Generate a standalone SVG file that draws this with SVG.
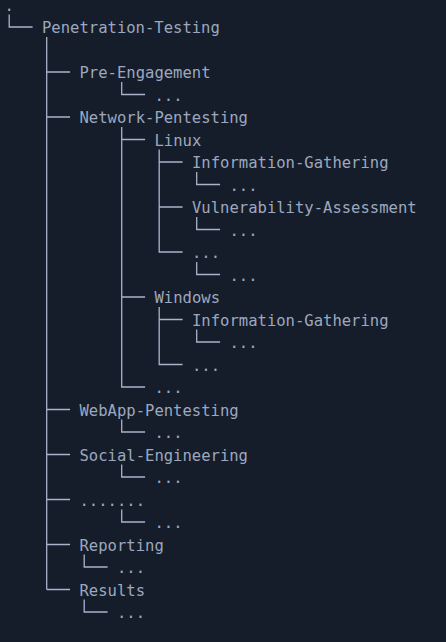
<svg xmlns="http://www.w3.org/2000/svg" width="446" height="642" viewBox="0 0 446 642">
<style>
text{font-family:"DejaVu Sans Mono","Liberation Mono",monospace;font-size:15.56px;fill:#9da8bf}
.c path{fill:none;stroke:#a9b3ca;stroke-width:1.3}
</style>
<rect width="446" height="642" fill="#151d2b"/>
<g class="c" id="connectors">
<path d="M9.2 14.5V27H32.6"/>
<path d="M46.7 37V589.5M46.7 72H70.1M46.7 117H70.1M46.7 409.5H70.1M46.7 454.5H70.1M46.7 499.5H70.1M46.7 544.5H70.1M46.7 589.5H70.1"/>
<path d="M121.7 82V94.5H145.1"/>
<path d="M121.7 127V387H145.1M121.7 139.5H145.1M121.7 297H145.1"/>
<path d="M159.2 149.5V252H182.6M159.2 162H182.6M159.2 207H182.6"/>
<path d="M196.7 172V184.5H220.1M196.7 217V229.5H220.1M196.7 262V274.5H220.1"/>
<path d="M159.2 307V364.5H182.6M159.2 319.5H182.6"/>
<path d="M196.7 329.5V342H220.1"/>
<path d="M121.7 419.5V432H145.1M121.7 464.5V477H145.1M121.7 509.5V522H145.1"/>
<path d="M84.2 554.5V567H107.6M84.2 599.5V612H107.6"/>
</g>
<g id="root"><text x="4.5" y="10.5">.</text></g>
<g id="penetration-testing"><text x="42" y="33">Penetration-Testing</text></g>
<g id="pre-engagement"><text x="79.5" y="78">Pre-Engagement</text></g>
<g id="pre-engagement-more"><text x="154.5" y="100.5">...</text></g>
<g id="network-pentesting"><text x="79.5" y="123">Network-Pentesting</text></g>
<g id="linux"><text x="154.5" y="145.5">Linux</text></g>
<g id="linux-info"><text x="192" y="168">Information-Gathering</text></g>
<g id="linux-info-more"><text x="229.5" y="190.5">...</text></g>
<g id="linux-vuln"><text x="192" y="213">Vulnerability-Assessment</text></g>
<g id="linux-vuln-more"><text x="229.5" y="235.5">...</text></g>
<g id="linux-other"><text x="192" y="258">...</text></g>
<g id="linux-other-more"><text x="229.5" y="280.5">...</text></g>
<g id="windows"><text x="154.5" y="303">Windows</text></g>
<g id="windows-info"><text x="192" y="325.5">Information-Gathering</text></g>
<g id="windows-info-more"><text x="229.5" y="348">...</text></g>
<g id="windows-other"><text x="192" y="370.5">...</text></g>
<g id="network-other"><text x="154.5" y="393">...</text></g>
<g id="webapp-pentesting"><text x="79.5" y="415.5">WebApp-Pentesting</text></g>
<g id="webapp-more"><text x="154.5" y="438">...</text></g>
<g id="social-engineering"><text x="79.5" y="460.5">Social-Engineering</text></g>
<g id="social-more"><text x="154.5" y="483">...</text></g>
<g id="ellipsis"><text x="79.5" y="505.5">.......</text></g>
<g id="ellipsis-more"><text x="154.5" y="528">...</text></g>
<g id="reporting"><text x="79.5" y="550.5">Reporting</text></g>
<g id="reporting-more"><text x="117" y="573">...</text></g>
<g id="results"><text x="79.5" y="595.5">Results</text></g>
<g id="results-more"><text x="117" y="618">...</text></g>
</svg>
